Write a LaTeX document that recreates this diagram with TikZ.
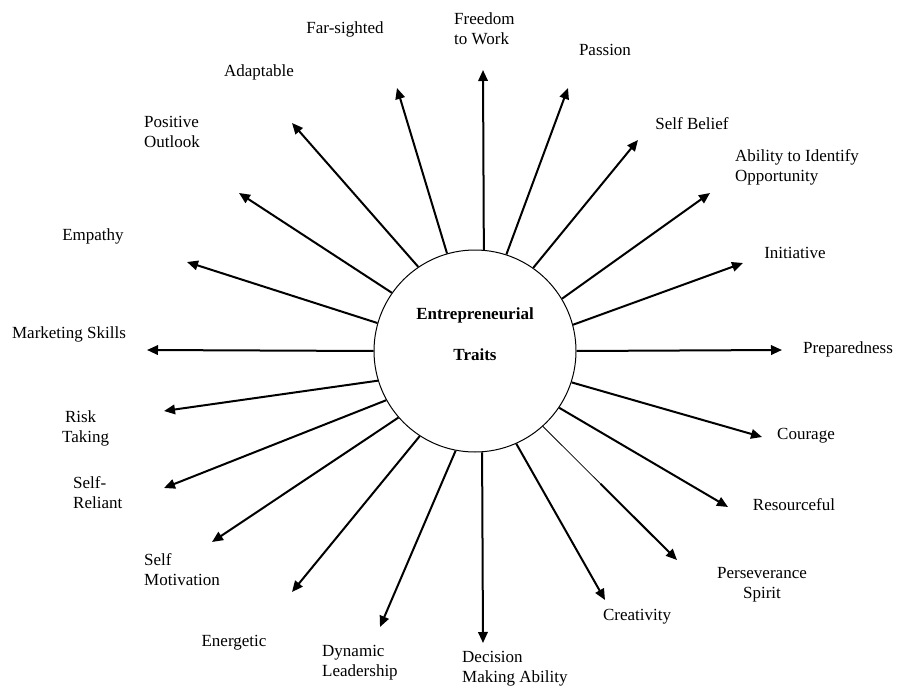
\documentclass[tikz,border=0pt]{standalone}
\usepackage{fontspec}
\setmainfont{Liberation Serif}
\usetikzlibrary{arrows.meta,calc}
\begin{document}
\begin{tikzpicture}[x=1pt,y=-1pt,
  arr/.style={line width=2pt,-{Triangle[length=11pt,width=9.5pt]}},
  thinline/.style={line width=0.8pt},
  lbl/.style={inner sep=0pt,font=\fontsize{17}{20}\selectfont},
  lblw/.style={lbl,anchor=west,align=left},
  hub/.style={circle,draw,line width=1pt,minimum size=202pt,inner sep=0pt}]
\useasboundingbox (0,0) rectangle (897,690);
\node[hub] (c) at (475,351) {};
\node[lbl,align=center,font=\bfseries\fontsize{17}{20}\selectfont] (title) at (475,334) {Entrepreneurial\\[21pt]Traits};
% tips
\coordinate (tFree) at (483,70);
\coordinate (tFar) at (397,88);
\coordinate (tAda) at (292,123);
\coordinate (tPos) at (239,193);
\coordinate (tEmp) at (187,262);
\coordinate (tMar) at (147,350);
\coordinate (tRis) at (164,411);
\coordinate (tRel) at (164,488);
\coordinate (tMot) at (212,542);
\coordinate (tEne) at (292,592);
\coordinate (tDyn) at (380,627);
\coordinate (tDec) at (483,643);
\coordinate (tCre) at (605,600);
\coordinate (tPer) at (677,560);
\coordinate (tRes) at (728,507);
\coordinate (tCou) at (762,437);
\coordinate (tPre) at (782,350);
\coordinate (tIni) at (743,263);
\coordinate (tAbi) at (710,193);
\coordinate (tBel) at (638,140);
\coordinate (tPas) at (568,88);
% arrows
\draw[arr] (c.85.5) -- (tFree);
\draw[arr] (c.106.3) -- (tFar);
\draw[arr] (c.124.6) -- (tAda);
\draw[arr] (c.145.7) -- (tPos);
\draw[arr] (c.164.4) -- (tEmp);
\draw[arr] (c.180) -- (tMar);
\draw[arr] (c.197.7) -- (tRis);
\draw[arr] (c.209) -- (tRel);
\draw[arr] (c.221.5) -- (tMot);
\draw[arr] (c.237.9) -- (tEne);
\draw[arr] (c.259.7) -- (tDyn);
\draw[arr] (c.274.5) -- (tDec);
\draw[arr] (c.294) -- (tCre);
\coordinate (pmid) at ($(c.312.7)!0.43!(tPer)$);
\draw[thinline] (c.312.7) -- (pmid);
\draw[arr] (pmid) -- (tPer);
\draw[arr] (c.326.8) -- (tRes);
\draw[arr] (c.342) -- (tCou);
\draw[arr] (c.0) -- (tPre);
\draw[arr] (c.15.6) -- (tIni);
\draw[arr] (c.31.5) -- (tAbi);
\draw[arr] (c.55.8) -- (tBel);
\draw[arr] (c.72.1) -- (tPas);
% labels
\node[lbl] (lFar) at (345,29) {Far-sighted};
\node[lbl] (lAda) at (259,72) {Adaptable};
\node[lblw] (lPos) at (144,132) {Positive\\Outlook};
\node[lbl] (lEmp) at (93,236) {Empathy};
\node[lbl] (lMar) at (69,334) {Marketing Skills};
\node[lblw] (lRis) at (62,428) {\,Risk\\Taking};
\node[lblw] (lRel) at (73,493) {Self-\\Reliant};
\node[lblw] (lMot) at (144,570) {Self\\Motivation};
\node[lbl] (lEne) at (234,643) {Energetic};
\node[lblw] (lDyn) at (322,663) {Dynamic\\Leadership};
\node[lblw] (lDec) at (462,669) {Decision\\Making Ability};
\node[lbl] (lCre) at (637,617) {Creativity};
\node[lbl,align=center] (lPer) at (762,585) {Perseverance\\Spirit};
\node[lbl] (lRes) at (794,505) {Resourceful};
\node[lbl] (lCou) at (806,436) {Courage};
\node[lblw] (lPre) at (803,349) {Preparedness};
\node[lbl] (lIni) at (795,253) {Initiative};
\node[lblw] (lAbi) at (735,167) {Ability to Identify\\Opportunity};
\node[lbl] (lBel) at (692,124) {Self Belief};
\node[lbl] (lPas) at (605,50) {Passion};
\node[lblw] (lFree) at (454,29) {Freedom\\to Work};
\end{tikzpicture}
\end{document}
